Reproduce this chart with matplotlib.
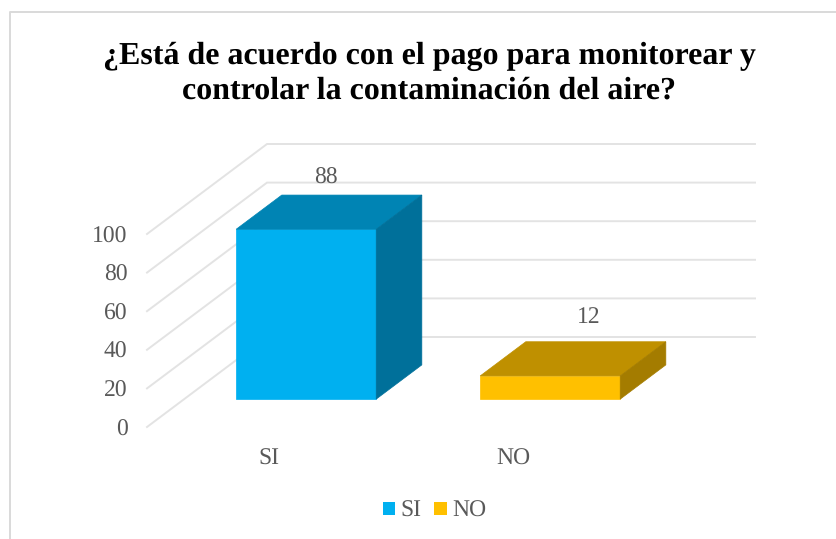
import matplotlib
matplotlib.use("Agg")
import matplotlib.pyplot as plt
from matplotlib.patches import Polygon, Rectangle
from matplotlib.lines import Line2D

plt.rcParams['font.family'] = ['Liberation Serif', 'DejaVu Serif']
plt.rcParams['text.hinting'] = 'no_hinting'

title = "¿Está de acuerdo con el pago para monitorear y\ncontrolar la contaminación del aire?"
categories = ["SI", "NO"]
values = [88, 12]
yticks = [0, 20, 40, 60, 80, 100]
front = ["#00B0F0", "#FFC000"]
top = ["#0084B4", "#BF9000"]
side = ["#00709A", "#A47C00"]
label_offsets = [(-26, 6), (-7, 14)]
TEXT = "#595959"
GRID = "#E3E3E3"

W, H = 837, 539
fig = plt.figure(figsize=(W / 100, H / 100), dpi=100)
fig.patch.set_facecolor("white")

# figure frame (only the left and top edges fall inside the picture)
fig.add_artist(Line2D([9.5 / W, 9.5 / W, 1], [0, 1 - 12 / H, 1 - 12 / H],
                      color="#D9D9D9", lw=1.4, transform=fig.transFigure))

# front wall of the oblique chart box: x 147..635 px, y 427..234 px
L, R, B, T = 147, 635, 427, 234
ax = fig.add_axes([L / W, 1 - B / H, (R - L) / W, (B - T) / H])
ax.set_xlim(0, 2)
ax.set_ylim(0, 100)
ax.patch.set_alpha(0)
for s in ax.spines.values():
    s.set_visible(False)

DX = 2 * 120 / (R - L)      # x-units for full depth
DY = 100 * 90 / (B - T)     # y-units for full depth


def P(x, y, d):
    return (x + d * DX, y + d * DY)


# walls / gridlines
for v in yticks:
    ax.plot(*zip(P(0, v, 0), P(0, v, 1), P(2, v, 1)), color=GRID, lw=1.4,
            clip_on=False, zorder=1, solid_joinstyle="miter")

# bars
width = 0.574
d0, d1 = 0.31, 0.69
centers = [0.5, 1.5]
for c, v, f, t, s, off in zip(centers, values, front, top, side, label_offsets):
    x0, x1 = c - width / 2, c + width / 2
    ax.add_patch(Polygon([P(x0, 0, d0), P(x1, 0, d0), P(x1, v, d0), P(x0, v, d0)],
                         fc=f, ec=f, lw=0.5, clip_on=False, zorder=3))
    ax.add_patch(Polygon([P(x0, v, d0), P(x1, v, d0), P(x1, v, d1), P(x0, v, d1)],
                         fc=t, ec=t, lw=0.5, clip_on=False, zorder=3))
    ax.add_patch(Polygon([P(x1, 0, d0), P(x1, 0, d1), P(x1, v, d1), P(x1, v, d0)],
                         fc=s, ec=s, lw=0.5, clip_on=False, zorder=3))
    lx, ly = P(c, v, d1)
    ax.annotate(str(v), (lx, ly), xytext=off, textcoords="offset pixels",
                ha="center", va="bottom", fontsize=17, color=TEXT,
                annotation_clip=False, zorder=4)

ax.set_yticks(yticks)
ax.set_xticks(centers)
ax.set_xticklabels(categories)
ax.tick_params(axis="both", length=0, labelsize=17, labelcolor=TEXT)
ax.tick_params(axis="y", pad=14)
ax.tick_params(axis="x", pad=15)

fig.text(429 / W, 1 - 73.5 / H, title, ha="center", va="center", fontsize=23,
         fontweight="bold", color="black", linespacing=1.2)

handles = [Rectangle((0, 0), 1, 1, fc=c, ec="none") for c in front]
fig.legend(handles, categories, loc="center", bbox_to_anchor=(434.5 / W, 1 - 511 / H),
           ncol=2, frameon=False, fontsize=17, labelcolor=TEXT, handlelength=0.52,
           handleheight=0.52, handletextpad=0.22, columnspacing=0.55, borderpad=0)

fig.savefig("out.png", dpi=100, facecolor="white")
